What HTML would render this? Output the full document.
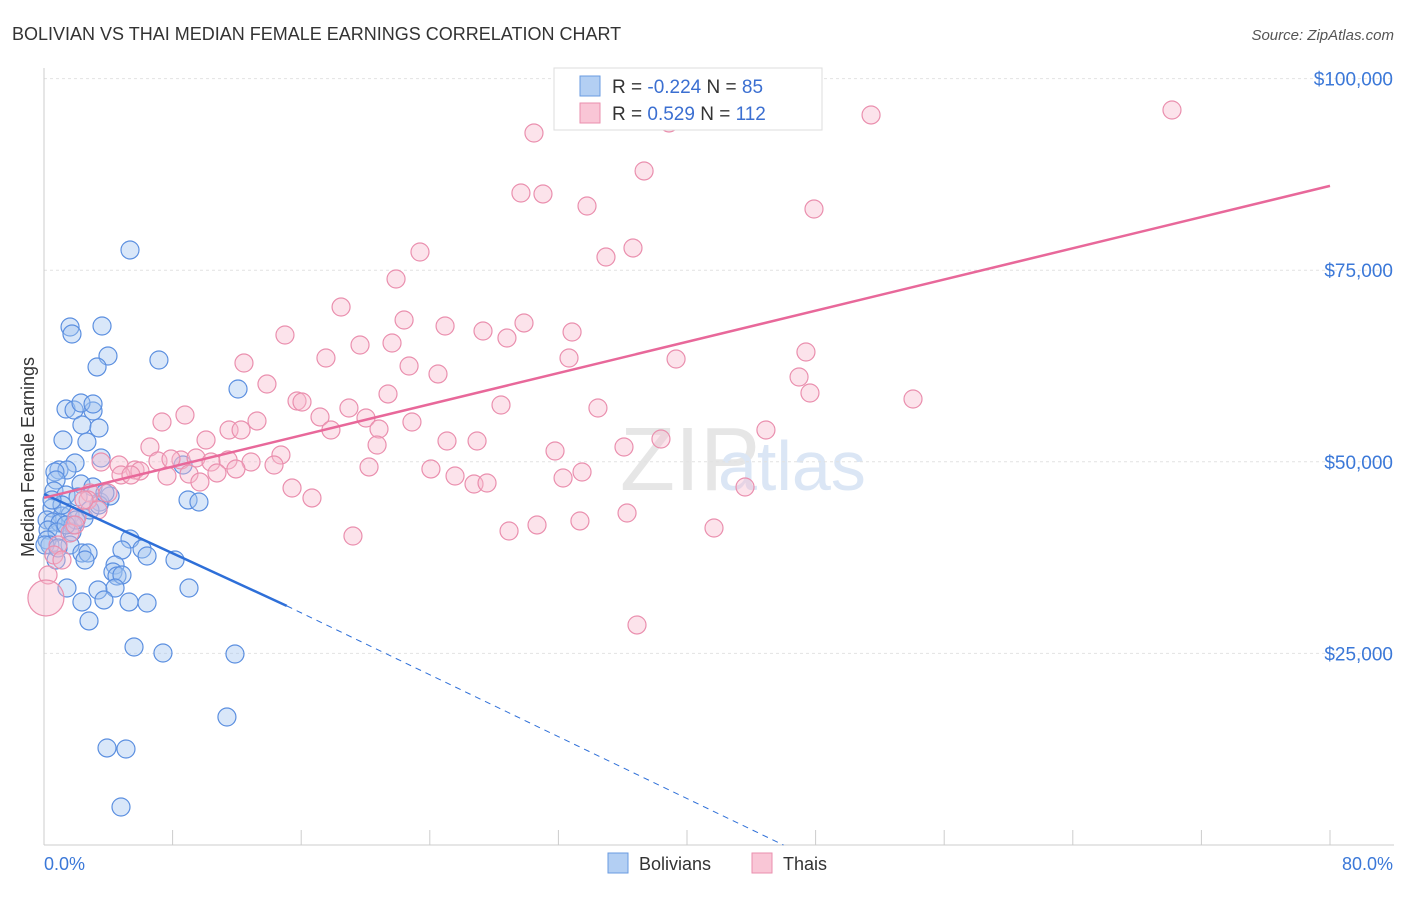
<!DOCTYPE html>
<html><head><meta charset="utf-8"><style>
body{margin:0;background:#fff;font-family:"Liberation Sans",sans-serif}
svg text{font-family:"Liberation Sans",sans-serif}
</style></head><body>
<svg id="c" width="1406" height="892">
<text x="12" y="40" font-size="18" fill="#333">BOLIVIAN VS THAI MEDIAN FEMALE EARNINGS CORRELATION CHART</text>
<text x="1394" y="40" font-size="15" fill="#555" text-anchor="end" font-style="italic">Source: ZipAtlas.com</text>
<text x="620" y="490" font-size="90" fill="#e6e6e6" font-family="Liberation Serif">ZIP</text>
<text x="718" y="490" font-size="70" fill="#dbe6f5">atlas</text>
<g id="grid"></g>
<g id="marks"></g>
<text transform="translate(34,457) rotate(-90)" font-size="18" fill="#333" text-anchor="middle">Median Female Earnings</text>
<text x="44" y="870" font-size="18" fill="#3b78d8">0.0%</text>
<text x="1393" y="870" font-size="18" fill="#3b78d8" text-anchor="end">80.0%</text>
<g>
<rect x="554" y="68" width="268" height="62" fill="#fff" stroke="#ddd"/>
<rect x="580" y="76" width="20" height="20" fill="#b3cff3" stroke="#6a9be0"/>
<rect x="580" y="103" width="20" height="20" fill="#f9c6d6" stroke="#ea8fae"/>
<text x="612" y="93" font-size="19" fill="#333">R = <tspan fill="#3b6fd1">-0.224</tspan>   N = <tspan fill="#3b6fd1">85</tspan></text>
<text x="612" y="120" font-size="19" fill="#333">R =  <tspan fill="#3b6fd1"> 0.529</tspan>   N = <tspan fill="#3b6fd1">112</tspan></text>
</g>
<g>
<rect x="608" y="853" width="20" height="20" fill="#b3cff3" stroke="#6a9be0"/>
<text x="639" y="870" font-size="18" fill="#333">Bolivians</text>
<rect x="752" y="853" width="20" height="20" fill="#f9c6d6" stroke="#ea8fae"/>
<text x="783" y="870" font-size="18" fill="#333">Thais</text>
</g>
</svg>
<script>
const yTicks=[25000,50000,75000,100000];
const yTickLabels=["$25,000","$50,000","$75,000","$100,000"];
const xTicks=[0,8,16,24,32,40,48,56,64,72,80];
const bluePx=[[130,250],[70,327],[102,326],[72,334],[108,356],[159,360],[97,367],[238,389],[66,409],[93,411],[74,410],[81,403],[93,404],[82,425],[99,428],[63,440],[87,442],[101,458],[75,463],[183,465],[59,470],[67,470],[55,472],[56,480],[81,484],[93,487],[54,491],[66,495],[78,497],[100,502],[110,496],[188,500],[199,502],[52,508],[62,516],[70,515],[84,518],[47,520],[53,522],[60,523],[73,525],[48,530],[57,532],[72,532],[47,540],[70,545],[130,539],[122,550],[82,553],[88,553],[142,549],[147,556],[175,560],[85,560],[115,565],[113,572],[117,576],[122,575],[98,590],[189,588],[115,588],[67,588],[82,602],[104,600],[129,602],[147,603],[89,621],[134,647],[163,653],[235,654],[227,717],[107,748],[126,749],[121,807],[50,545],[56,560],[45,545],[62,505],[90,510],[52,500],[76,520],[66,525],[99,505],[58,548],[105,493]];
const pinkPx=[[1172,110],[871,115],[534,133],[669,123],[644,171],[521,193],[543,194],[587,206],[814,209],[633,248],[606,257],[420,252],[396,279],[341,307],[404,320],[445,326],[524,323],[572,332],[483,331],[507,338],[285,335],[360,345],[326,358],[392,343],[244,363],[409,366],[438,374],[569,358],[676,359],[806,352],[267,384],[799,377],[810,393],[913,399],[388,394],[297,401],[302,402],[501,405],[598,408],[320,417],[349,408],[162,422],[185,415],[229,430],[241,430],[257,421],[331,430],[366,418],[379,429],[412,422],[377,445],[206,440],[150,447],[447,441],[477,441],[624,447],[661,439],[766,430],[555,451],[281,455],[181,460],[158,461],[119,465],[135,470],[101,462],[140,471],[171,459],[196,458],[211,462],[228,460],[251,462],[274,465],[217,473],[189,474],[167,476],[200,482],[121,475],[131,475],[236,469],[369,467],[431,469],[455,476],[474,484],[487,483],[563,478],[582,472],[292,488],[312,498],[90,493],[108,493],[88,500],[98,510],[77,517],[70,533],[58,545],[54,555],[48,575],[46,598],[353,536],[509,531],[537,525],[580,521],[627,513],[714,528],[745,487],[637,625],[84,500],[62,560],[75,525]];
// convert reading pixels to data values
const X0=44,X1=1330,Y0=845,YPER=191.6/25000;
const blueX=bluePx.map(p=>+((p[0]-X0)/(X1-X0)*80).toFixed(2));
const blueY=bluePx.map(p=>Math.round((Y0-p[1])/YPER));
const pinkX=pinkPx.map(p=>+((p[0]-X0)/(X1-X0)*80).toFixed(2));
const pinkY=pinkPx.map(p=>Math.round((Y0-p[1])/YPER));
const blueTrend=[[0,45800],[15.1,31200],[46,0]];
const pinkTrend=[[0,45300],[80,86000]];
const xs=v=>X0+v/80*(X1-X0);
const ys=v=>Y0-v*YPER;
const NS="http://www.w3.org/2000/svg";
const grid=document.getElementById('grid'),marks=document.getElementById('marks');
function mk(tag,attrs,parent){const e=document.createElementNS(NS,tag);for(const k in attrs)e.setAttribute(k,attrs[k]);parent.appendChild(e);return e;}
yTicks.forEach((t,i)=>{
 const l=mk('line',{x1:44,x2:1394,y1:ys(t),y2:ys(t),stroke:'#e2e2e2','stroke-dasharray':'3,3'},grid);
 
 
 const tx=mk('text',{x:1393,y:ys(t)+7,'font-size':19,fill:'#3b78d8','text-anchor':'end'},grid);
 tx.textContent=yTickLabels[i];
 
 
});
const ax=mk('line',{x1:44,x2:1394,y1:845,y2:845,stroke:'#ccc'},grid);


const ay=mk('line',{x1:44,x2:44,y1:68,y2:845,stroke:'#ccc'},grid);


xTicks.forEach(t=>{
 const l=mk('line',{x1:xs(t),x2:xs(t),y1:830,y2:845,stroke:'#ccc'},grid);
 
 
});
function pts(xa,ya,fill,stroke,name){
 xa.forEach((x,i)=>{
  const big=(x<0.2&&ya[i]<34000)?18:9;
  const c=mk('circle',{cx:xs(x),cy:ys(ya[i]),r:big,fill:fill,'fill-opacity':0.4,stroke:stroke,'stroke-width':1.2},marks);
  
  
 });
}
pts(blueX,blueY,'#9fc2f0','#5b8fe0','bolivian-point');
pts(pinkX,pinkY,'#f7b9cc','#ea8fae','thai-point');
const b1=mk('line',{x1:xs(blueTrend[0][0]),y1:ys(blueTrend[0][1]),x2:xs(blueTrend[1][0]),y2:ys(blueTrend[1][1]),stroke:'#2e6fd8','stroke-width':2.5},marks);


const b2=mk('line',{x1:xs(blueTrend[1][0]),y1:ys(blueTrend[1][1]),x2:xs(blueTrend[2][0]),y2:ys(blueTrend[2][1]),stroke:'#2e6fd8','stroke-width':1,'stroke-dasharray':'6,5'},marks);


const p1=mk('line',{x1:xs(pinkTrend[0][0]),y1:ys(pinkTrend[0][1]),x2:xs(pinkTrend[1][0]),y2:ys(pinkTrend[1][1]),stroke:'#e8689a','stroke-width':2.5},marks);


</script>
</body></html>
